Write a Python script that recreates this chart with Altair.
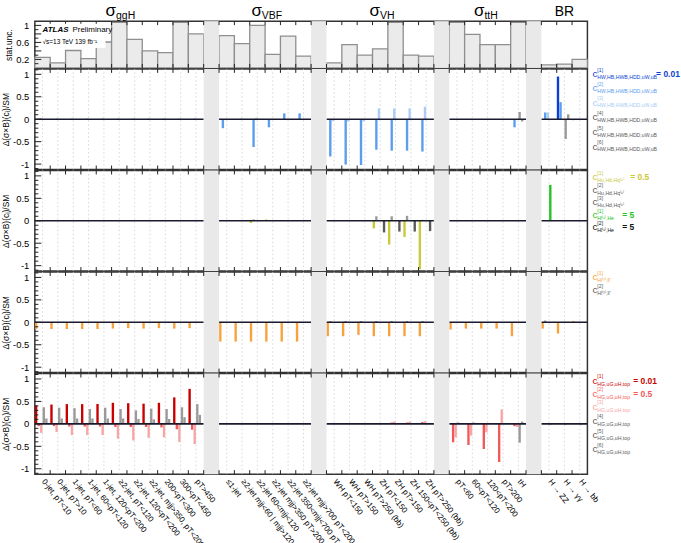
import altair as alt
import pandas as pd

# ---------------- categories ----------------
ggH_labels = ["0-jet, pT<10", "0-jet, pT>10", "1-jet, pT<60", "1-jet, 60<pT<120",
              "1-jet, 120<pT<200", "≥2-jet, pT<120", "≥2-jet, 120<pT<200",
              "≥2-jet, mjj>350, pT<200", "200<pT<300", "300<pT<450", "pT>450"]
VBF_labels = ["≤1-jet", "≥2-jet mjj<60 | mjj>120", "≥2-jet 60<mjj<120",
              "≥2-jet mjj>350 pT>200", "≥2-jet 350<mjj<700 pT<200", "≥2-jet mjj>700 pT<200"]
VH_labels = ["WH pT<150", "WH pT>150", "WH pT>250 (bb)", "ZH pT<150", "ZH pT>150",
             "ZH 150<pT<250 (bb)", "ZH pT>250 (bb)"]
ttH_labels = ["pT<60", "60<pT<120", "120<pT<200", "pT>200", "tH"]
BR_labels = ["H → ZZ", "H → γγ", "H → bb"]
group_subs = ["ggH", "VBF", "VH", "ttH", ""]
group_labels = [ggH_labels, VBF_labels, VH_labels, ttH_labels, BR_labels]

# ---------------- values (ggH | VBF | VH | ttH | BR) ----------------
stat_unc = [0.25, 0.12, 0.41, 0.22, 0.61, 1.07, 0.67, 0.40, 0.36, 1.07, 0.80,
            0.76, 0.57, 1.00, 0.32, 0.75, 0.28,
            0.12, 0.55, 0.30, 0.45, 1.07, 0.30, 0.28,
            1.07, 0.79, 0.55, 0.55, 1.07,
            0.07, 0.09, 0.20]

# panel 1 : c_{HW,HB,HWB,HDD,uW,uB}
p1_c1 = [0, 0, 0, 0, 0, 0, 0, 0, 0, 0, 0,  0, 0, 0, 0, 0, 0,  0, 0, 0, 0, 0, 0, 0,  0, 0, 0, 0, 0,  0, 0.95, -0.02]
p1_c2 = [0, 0, 0, 0, 0, 0, 0, 0, 0, 0, 0,  -0.20, 0, -0.62, -0.18, 0.13, 0.13,
         -0.83, -1.01, -1.02, -0.68, -0.70, -0.70, -0.72,  0, 0, 0, 0, -0.18,  0.15, 0.38, 0]
p1_c3 = [0.02, 0.02, 0.02, 0.02, 0.02, 0.02, 0.02, 0.02, 0.02, 0.02, 0.02,  0, 0.02, 0.03, 0, 0, 0,
         -0.04, -0.05, -0.05, 0.24, 0.24, 0.24, 0.28,  0, 0, 0, 0, 0,  0.15, 0, 0]
p1_c4 = [0, 0, 0, 0, 0, 0, 0, 0, 0, 0, 0,  0, 0, 0, 0, 0, 0,  0, 0, 0, 0, 0, 0, 0,  0, 0, 0, 0, 0.16,  0, -0.44, 0]
p1_c5 = [0, 0, 0, 0, 0, 0, 0, 0, 0, 0, 0,  0, 0, 0, 0, 0, 0,  0, 0, 0, 0, 0, 0, 0,  0, 0, 0, 0, -0.05,  0, 0.11, 0]

# panel 2 : c_{Hu,Hd,Hq(1)} and c_{Hl(1),He}
p2_c1 = [0, 0, 0, 0, 0, 0, 0, 0, 0, 0, 0,  0, 0, -0.05, 0.03, 0, 0,
         0, 0, 0, -0.17, -0.53, -0.36, -1.08,  0, 0, 0, 0, 0,  0, 0, 0]
p2_c2 = [0, 0, 0, 0, 0, 0, 0, 0, 0, 0, 0,  0, 0, 0.03, 0, 0, 0,
         0, 0, 0, 0.10, 0.10, 0.11, 0.02,  0, 0, 0, 0, 0,  0, 0, 0]
p2_g1 = [0, 0, 0, 0, 0, 0, 0, 0, 0, 0, 0,  0, 0, 0, 0, 0, 0,  0, 0, 0, 0, 0, 0, 0,  0, 0, 0, 0, 0,  0.80, 0, 0]
p2_g2 = [0, 0, 0, 0, 0, 0, 0, 0, 0, 0, 0,  0, 0, 0, 0, 0, 0,
         0, 0, 0, -0.26, -0.24, -0.24, -0.23,  0, 0, 0, 0, 0,  0, 0, 0]

# panel 3 : c_{Hl(3),ll'}
p3_c1 = [-0.15, -0.15, -0.15, -0.15, -0.15, -0.14, -0.13, -0.14, -0.13, -0.14, -0.13,
         -0.43, -0.43, -0.43, -0.43, -0.43, -0.43,
         -0.31, -0.31, -0.28, -0.31, -0.31, -0.31, -0.31,
         -0.16, -0.14, -0.14, -0.14, -0.31,
         -0.14, -0.25, 0.03]
p3_c2 = [0, 0, 0, 0, 0, 0, 0, 0, 0, 0, 0,  0.01, 0.01, 0.01, 0.01, 0.01, 0.01,
         0.03, 0.03, 0.03, 0.03, 0.03, 0.03, 0.03,  0.01, 0.01, 0.01, 0.01, 0.01,  0.04, 0, 0]

# panel 4 : c_{HG,uG,uH,top}
p4_c1 = [0.41, 0.43, 0.44, 0.44, 0.44, 0.47, 0.46, 0.45, 0.47, 0.59, 0.78,
         0, 0, 0, 0, 0, 0,  0, 0, 0, 0, 0, 0, 0,  0, 0, 0, 0, 0,  0, 0, 0]
p4_c2 = [-0.05, -0.05, -0.06, -0.06, -0.06, -0.07, -0.07, -0.07, -0.08, -0.12, -0.13,
         0, 0, 0, 0, 0, 0,  0, 0, 0, 0, 0.03, 0.03, 0.04,
         -0.41, -0.47, -0.56, -0.85, -0.05,  0, 0, 0]
p4_c3 = [-0.20, -0.18, -0.25, -0.25, -0.25, -0.33, -0.37, -0.31, -0.30, -0.40, -0.45,
         0, 0, 0, 0, 0, 0,  0, 0, 0, 0, 0.05, 0.05, 0.06,
         -0.30, -0.26, -0.19, 0.32, -0.07,  0, 0, 0]
p4_c4 = [0.37, 0.36, 0.35, 0.33, 0.36, 0.33, 0.30, 0.34, 0.33, 0.37, 0.44,
         0, 0, 0, 0, 0, 0,  0, 0, 0, 0, 0, 0, 0,
         0.03, 0.03, 0, 0, -0.42,  -0.02, -0.02, -0.02]
p4_c5 = [0.12, 0.12, 0.12, 0.12, 0.12, 0.12, 0.11, 0.10, 0.11, 0.15, 0.20,
         0, 0, 0, 0, 0, 0,  0, 0, 0, 0, 0, 0, 0,
         0.02, 0.02, 0.02, 0, 0.05,  0, 0, 0]

# ---------------- colours ----------------
BLUE1, BLUE2, BLUE3 = "#0b3fd3", "#5c9ded", "#a9cdf5"
GREY, DGREY = "#9a9a9a", "#5a5a5a"
YEL, GRN = "#c9c93a", "#22c322"
ORA = "#f7a23c"
RED1, RED2, RED3 = "#c80000", "#f05a5a", "#f7a5a5"
FONT = "Liberation Sans"

# ---------------- layout helpers ----------------
slots, spans, bin_labels = [], [], []
pos = 0
for gi, labs in enumerate(group_labels):
    start = pos
    for lab in labs:
        slots.append(pos)
        bin_labels.append(lab)
        pos += 1
    spans.append((start, pos))
    if gi < len(group_labels) - 1:
        pos += 1
NSLOT = pos
gaps = [spans[i][1] for i in range(len(spans) - 1)]

xs = alt.Scale(domain=[0, NSLOT], nice=False, zero=False)
W = 555
H_TOP, H_MAIN = 47, 101
PXU = W / NSLOT

Y_LABEL_EXPR = "datum.value < 0 ? '-' + format(-datum.value, '~g') : format(datum.value, '~g')"


def X(f, axis):
    return alt.X(f, type="quantitative", scale=xs, axis=axis)


def Yq(f, ys, axis):
    return alt.Y(f, type="quantitative", scale=ys, axis=axis)


def right_of_plot(px):
    """data-x for a point px pixels to the right of the plot's right edge"""
    return NSLOT + px / PXU


def bar_frame(series):
    rows = []
    for color, k, vals in series:
        for i, v in enumerate(vals):
            if v != 0:
                x0 = slots[i] + (k - 1) / 6.0
                rows.append(dict(x=x0 + 0.006, x2=x0 + 1 / 6.0 - 0.006, y0=0.0, v=v, c=color))
    return pd.DataFrame(rows)


def dotted_layer(ymin, ymax, ys, xaxis, yaxis):
    d = pd.DataFrame({"x": [s + 0.5 for s in slots], "y0": ymin, "y1": ymax})
    return (alt.Chart(d).mark_rule(color="#cccccc", strokeDash=[1.5, 2.5], strokeWidth=0.8)
            .encode(x=X("x", xaxis), y=Yq("y0", ys, yaxis), y2="y1"))


def deco_layers(ymin, ymax, ppu, ys, xaxis, yaxis, major, minor):
    L = []
    g = pd.DataFrame({"x": gaps, "x2": [v + 1 for v in gaps], "y0": ymin, "y1": ymax})
    L.append(alt.Chart(g).mark_rect(color="#e9e9e9")
             .encode(x=X("x", xaxis), x2="x2", y=Yq("y0", ys, yaxis), y2="y1"))
    tl = 4.0 / ppu
    b = list(range(1, NSLOT))
    tk = pd.DataFrame({"x": b + b, "y0": [ymin] * len(b) + [ymax] * len(b),
                       "y1": [ymin + tl] * len(b) + [ymax - tl] * len(b)})
    L.append(alt.Chart(tk).mark_rule(color="#222", strokeWidth=1)
             .encode(x=X("x", xaxis), y=Yq("y0", ys, yaxis), y2="y1"))
    yt = pd.DataFrame({"y": major + minor, "x0": 0.0,
                       "x1": [6.5 / PXU] * len(major) + [3.5 / PXU] * len(minor)})
    L.append(alt.Chart(yt).mark_rule(color="#222", strokeWidth=1)
             .encode(x=X("x0", xaxis), x2="x1", y=Yq("y", ys, yaxis)))
    return L


def legend_layers(entries, ys, xaxis, yaxis):
    # entries: (y, sup, sub, eq, colour, eq_x)
    df = pd.DataFrame(entries, columns=["y", "sup", "sub", "eq", "c", "xe"])
    df["x"] = right_of_plot(5)
    base = alt.Chart(df)
    enc = dict(y=Yq("y", ys, yaxis), color=alt.Color("c:N", scale=None))
    L = [
        base.mark_text(text="c", fontSize=10, align="left", baseline="middle", font=FONT)
        .encode(x=X("x", xaxis), **enc),
        base.mark_text(fontSize=5.2, align="left", baseline="middle", dx=5, dy=-4.4, font=FONT)
        .encode(x=X("x", xaxis), text="sup:N", **enc),
        base.mark_text(fontSize=5.2, align="left", baseline="middle", dx=5, dy=2.9, font=FONT)
        .encode(x=X("x", xaxis), text="sub:N", **enc),
        base.mark_text(fontSize=8.5, align="left", baseline="middle", fontWeight="bold", font=FONT)
        .encode(x=X("xe", xaxis), text="eq:N", **enc),
    ]
    return L


MAJ = [-1, -0.5, 0, 0.5, 1]
MIN = [-1.1, -0.9, -0.8, -0.7, -0.6, -0.4, -0.3, -0.2, -0.1, 0.1, 0.2, 0.3, 0.4, 0.6, 0.7, 0.8, 0.9, 1.1]
YMIN, YMAX = -1.12, 1.12
PPU = H_MAIN / (YMAX - YMIN)

lab_arr = [""] * NSLOT
for i, s in enumerate(slots):
    lab_arr[s] = bin_labels[i]
label_expr = "[" + ",".join("'" + l.replace("'", "\\'") + "'" for l in lab_arr) + "][floor(datum.value)]"
xaxis_bottom = alt.Axis(values=[s + 0.5 for s in slots], labelExpr=label_expr, labelAngle=52,
                        labelAlign="left", labelBaseline="middle", labelFontSize=8,
                        labelPadding=6, labelOverlap=False, labelBound=False, labelFlush=False,
                        ticks=False, domain=False, grid=False, title=None, labelFont=FONT)


def yaxis_main():
    return alt.Axis(values=MAJ, labelExpr=Y_LABEL_EXPR, title="Δ(σ×B)(cᵢ)/SM", titleFontSize=8.5,
                    labelFontSize=9.5, labelPadding=6, titlePadding=2, grid=False,
                    ticks=False, domain=False, labelFont=FONT, titleFont=FONT,
                    titleFontWeight="normal")


def main_panel(series, legend, xaxis):
    ys = alt.Scale(domain=[YMIN, YMAX], nice=False, zero=False)
    yaxis = yaxis_main()
    L = [dotted_layer(YMIN, YMAX, ys, xaxis, yaxis)]
    bd = bar_frame(series)
    L.append(alt.Chart(bd).mark_rect()
             .encode(x=X("x", xaxis), x2="x2", y=Yq("y0", ys, yaxis), y2="v",
                     color=alt.Color("c:N", scale=None)))
    z = pd.DataFrame({"x": [a for a, b in spans], "x2": [b for a, b in spans], "y": 0.0})
    L.append(alt.Chart(z).mark_rule(color="#1a1a2e", strokeWidth=1.6)
             .encode(x=X("x", xaxis), x2="x2", y=Yq("y", ys, yaxis)))
    L += deco_layers(YMIN, YMAX, PPU, ys, xaxis, yaxis, MAJ, MIN)
    L += legend_layers(legend, ys, xaxis, yaxis)
    return alt.layer(*L).properties(width=W, height=H_MAIN)


# ---------------- top panel (stat. unc.) ----------------
TMIN, TMAX = 0.0, 1.1
TPPU = H_TOP / (TMAX - TMIN)
ys_t = alt.Scale(domain=[TMIN, TMAX], nice=False, zero=False)
yaxis_t = alt.Axis(values=[0.2, 0.4, 0.6, 0.8, 1], labelExpr=Y_LABEL_EXPR, title="stat.unc.",
                   titleFontSize=8.5, labelFontSize=9.5, labelPadding=6, titlePadding=2, grid=False,
                   ticks=False, domain=False, labelFont=FONT, titleFont=FONT, titleFontWeight="normal")
st = pd.DataFrame({"x": slots, "x2": [s + 1 for s in slots], "y0": 0.0, "v": stat_unc})
top_layers = [
    alt.Chart(st).mark_rect(fill="#ebebeb", stroke="#8f8f8f", strokeWidth=1.3)
    .encode(x=X("x", None), x2="x2", y=Yq("y0", ys_t, yaxis_t), y2="v")
]
top_layers += deco_layers(TMIN, TMAX, TPPU, ys_t, None, yaxis_t,
                          [0.2, 0.4, 0.6, 0.8, 1.0], [0.1, 0.3, 0.5, 0.7, 0.9])
box = pd.DataFrame({"x": [0.45], "x2": [4.6], "y0": [0.47], "y1": [1.04]})
top_layers.append(alt.Chart(box).mark_rect(color="white")
                  .encode(x=X("x", None), x2="x2", y=Yq("y0", ys_t, yaxis_t), y2="y1"))
atl = pd.DataFrame({"x": [0.5], "y": [0.9]})
top_layers.append(alt.Chart(atl).mark_text(text="ATLAS", fontSize=8, fontWeight="bold",
                                           fontStyle="italic", align="left", baseline="middle", font=FONT)
                  .encode(x=X("x", None), y=Yq("y", ys_t, yaxis_t)))
atl2 = pd.DataFrame({"x": [2.45], "y": [0.9]})
top_layers.append(alt.Chart(atl2).mark_text(text="Preliminary", fontSize=8, align="left",
                                            baseline="middle", font=FONT)
                  .encode(x=X("x", None), y=Yq("y", ys_t, yaxis_t)))
atl3 = pd.DataFrame({"x": [0.5], "y": [0.62]})
top_layers.append(alt.Chart(atl3).mark_text(text="√s=13 TeV 139 fb⁻¹", fontSize=6.5, align="left",
                                            baseline="middle", font=FONT)
                  .encode(x=X("x", None), y=Yq("y", ys_t, yaxis_t)))
# group titles
tt = []
for (a, b), sub in zip(spans, group_subs):
    c = (a + b) / 2.0
    if sub:
        wsub = 6.0 * len(sub)
        x0 = c - (9.5 + wsub) / 2.0 / PXU
        tt.append(dict(xs=x0, xb=x0 + 10.5 / PXU, sub=sub, y=1.215))
titles = pd.DataFrame(tt)
top_layers.append(alt.Chart(titles).mark_text(text="σ", fontSize=17, align="left",
                                              baseline="alphabetic", font=FONT)
                  .encode(x=X("xs", None), y=Yq("y", ys_t, yaxis_t)))
top_layers.append(alt.Chart(titles).mark_text(fontSize=10.5, align="left", baseline="alphabetic",
                                              dy=3, font=FONT)
                  .encode(x=X("xb", None), y=Yq("y", ys_t, yaxis_t), text="sub:N"))
brt = pd.DataFrame({"x": [(spans[4][0] + spans[4][1]) / 2.0], "y": [1.215], "t": ["BR"]})
top_layers.append(alt.Chart(brt).mark_text(fontSize=14, align="center", baseline="alphabetic", font=FONT)
                  .encode(x=X("x", None), y=Yq("y", ys_t, yaxis_t), text="t:N"))
top = alt.layer(*top_layers).properties(width=W, height=H_TOP)

# ---------------- main panels ----------------
S1 = "HW,HB,HWB,HDD,uW,uB"
p1 = main_panel(
    [(BLUE1, 1, p1_c1), (BLUE2, 2, p1_c2), (BLUE3, 3, p1_c3), (GREY, 4, p1_c4), (GREY, 5, p1_c5)],
    [(1.00, "[1]", S1, "= 0.01", BLUE1, right_of_plot(69)),
     (0.69, "[2]", S1, "", BLUE2, 0),
     (0.37, "[3]", S1, "", BLUE3, 0),
     (0.04, "[4]", S1, "", DGREY, 0),
     (-0.29, "[5]", S1, "", DGREY, 0),
     (-0.61, "[6]", S1, "", DGREY, 0)],
    None)
S2 = "Hu,Hd,Hq⁽¹⁾"
S2b = "Hl⁽¹⁾,He"
p2 = main_panel(
    [(YEL, 1, p2_c1), (GREY, 2, p2_c2), (GRN, 4, p2_g1), (DGREY, 5, p2_g2)],
    [(0.97, "[1]", S2, "= 0.5", YEL, right_of_plot(43)),
     (0.69, "[2]", S2, "", DGREY, 0),
     (0.41, "[3]", S2, "", DGREY, 0),
     (0.13, "[1]", S2b, "= 5", GRN, right_of_plot(35)),
     (-0.15, "[2]", S2b, "= 5", "#111111", right_of_plot(35))],
    None)
S3 = "Hl⁽³⁾,ll'"
p3 = main_panel(
    [(ORA, 1, p3_c1), (GREY, 2, p3_c2)],
    [(1.00, "[1]", S3, "", ORA, 0),
     (0.72, "[2]", S3, "", DGREY, 0)],
    None)
S4 = "HG,uG,uH,top"
p4 = main_panel(
    [(RED1, 1, p4_c1), (RED2, 2, p4_c2), (RED3, 3, p4_c3), (GREY, 4, p4_c4), (GREY, 5, p4_c5)],
    [(0.96, "[1]", S4, "= 0.01", RED1, right_of_plot(46)),
     (0.67, "[2]", S4, "= 0.5", RED2, right_of_plot(46)),
     (0.38, "[3]", S4, "", RED3, 0),
     (0.07, "[4]", S4, "", DGREY, 0),
     (-0.25, "[5]", S4, "", DGREY, 0),
     (-0.56, "[6]", S4, "", DGREY, 0)],
    xaxis_bottom)

chart = (alt.vconcat(top, p1, p2, p3, p4, spacing=1, bounds="flush")
         .properties(padding={"left": 0, "top": 0, "right": 0, "bottom": 0})
         .configure_view(stroke="#333333", strokeWidth=1.5)
         .configure_axis(grid=False, labelColor="#000", titleColor="#000"))

chart.save("out.html", embed_options={"renderer": "svg", "actions": False})
